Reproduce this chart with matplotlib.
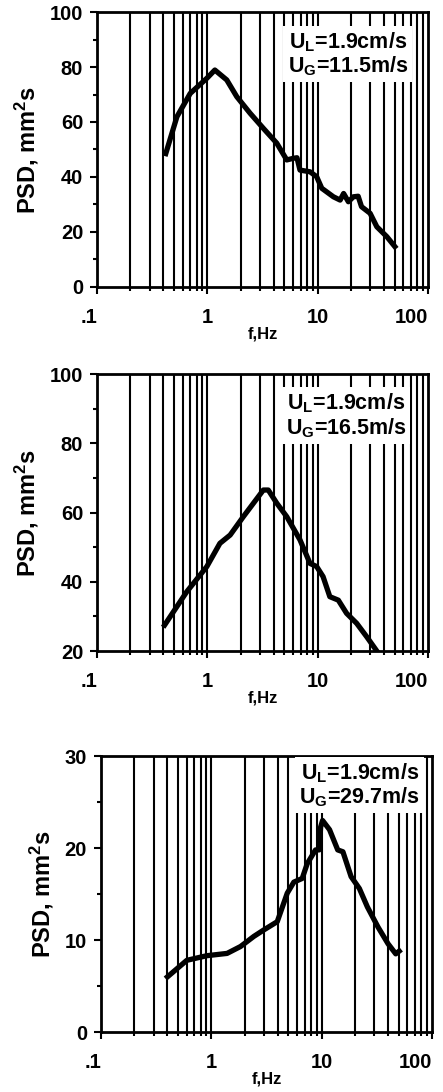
import numpy as np
import matplotlib
matplotlib.use('Agg')
import matplotlib.pyplot as plt
from matplotlib.ticker import LogLocator, MultipleLocator, NullFormatter

plt.rcParams['font.family'] = ['Liberation Sans', 'DejaVu Sans']
plt.rcParams['font.weight'] = 'bold'
plt.rcParams['mathtext.default'] = 'regular'

# panel 1: U_G = 11.5 m/s
f1 = [0.42, 0.53, 0.70, 0.99, 1.17, 1.50, 1.85, 2.44, 3.22, 4.26, 5.25, 6.03, 6.5, 6.92,
      8.53, 9.8, 10.9, 13.9, 16.0, 17.2, 19.0, 21.1, 23.3, 25.0, 29.9, 34.4, 42.4, 50.1]
p1 = [48.5, 61.9, 70.4, 75.9, 78.9, 75.3, 69.2, 63.2, 57.7, 52.3, 46.2, 46.8, 47.0, 42.5,
      41.9, 40.1, 35.9, 32.8, 31.6, 34.0, 31.0, 32.8, 33.0, 29.2, 26.8, 21.9, 18.3, 14.7]

# panel 2: U_G = 16.5 m/s
f2 = [0.41, 0.65, 0.99, 1.30, 1.61, 2.12, 2.62, 3.22, 3.57, 4.26, 5.25, 6.92, 8.53, 9.8,
      11.2, 12.9, 15.4, 18.3, 22.6, 27.9, 34.4]
p2 = [27.5, 37.1, 44.4, 51.1, 53.5, 58.8, 62.7, 66.5, 66.5, 62.7, 58.8, 52.1, 45.3, 44.4,
      41.5, 35.7, 34.7, 30.9, 28.0, 24.1, 20.0]

# panel 3: U_G = 29.7 m/s
f3 = [0.40, 0.60, 0.91, 1.39, 1.84, 2.43, 2.99, 3.96, 4.88, 5.6, 6.67, 7.4, 8.8, 9.5,
      9.8, 10.2, 11.8, 14.0, 15.6, 18.5, 22.0, 26.0, 32.5, 40.0, 47.0, 50.5]
p3 = [6.0, 7.8, 8.3, 8.55, 9.3, 10.4, 11.1, 12.0, 15.1, 16.3, 16.7, 18.3, 19.8, 19.8,
      22.3, 23.0, 22.0, 19.8, 19.6, 16.9, 15.6, 13.6, 11.4, 9.6, 8.5, 8.8]

labels = ['U$_L$=1.9cm/s\nU$_G$=11.5m/s',
          'U$_L$=1.9cm/s\nU$_G$=16.5m/s',
          'U$_L$=1.9cm/s\nU$_G$=29.7m/s']
ylims = [(0, 100), (20, 100), (0, 30)]
yticks = [[0, 20, 40, 60, 80, 100], [20, 40, 60, 80, 100], [0, 10, 20, 30]]
yminor = [10, 10, 5]
xticks = [0.1, 1, 10, 100]
xticklabels = ['.1', '1', '10', '100']

fig = plt.figure(figsize=(4.43, 10.92), dpi=100)
rects = [[0.219, 0.7372, 0.747, 0.2518],
         [0.219, 0.4038, 0.747, 0.2537],
         [0.228, 0.0549, 0.747, 0.2527]]
tpos = [(0.758, 0.847), (0.752, 0.850), (0.782, 0.895)]

grid_f = [m * 10.0 ** k for k in (-1, 0, 1) for m in range(2, 11)][:-1]

for i, (f, p) in enumerate([(f1, p1), (f2, p2), (f3, p3)]):
    ax = fig.add_axes(rects[i])
    ax.set_xscale('log')
    ax.set_xlim(0.1, 100)
    ax.set_ylim(*ylims[i])
    for g in grid_f:
        ax.axvline(g, color='black', lw=1.5, zorder=1)
    ax.plot(f, p, color='black', lw=3.8, zorder=3)
    ax.set_xticks(xticks, xticklabels)
    ax.xaxis.set_minor_locator(LogLocator(base=10, subs=np.arange(2, 10)))
    ax.xaxis.set_minor_formatter(NullFormatter())
    for lbl in ax.get_xticklabels():
        if lbl.get_text() == '100':
            lbl.set_ha('right')
            lbl.set_x(lbl.get_position()[0])
        elif lbl.get_text() == '.1':
            lbl.set_ha('right')
    ax.set_yticks(yticks[i])
    ax.yaxis.set_minor_locator(MultipleLocator(yminor[i]))
    ax.tick_params(which='major', direction='out', length=5, width=1.5, labelsize=14.5)
    ax.tick_params(axis='x', which='major', pad=10)
    ax.tick_params(axis='y', which='major', pad=5)
    ax.tick_params(which='minor', direction='out', length=3, width=1.5)
    for s in ax.spines.values():
        s.set_linewidth(2)
    ax.set_xlabel('f,Hz', fontsize=12, fontweight='bold', labelpad=0)
    ax.set_ylabel('PSD, mm$^2$s', fontsize=17, fontweight='bold', labelpad=6)
    ax.text(tpos[i][0], tpos[i][1], labels[i], transform=ax.transAxes, ha='center', va='center',
            fontsize=15.5, fontweight='bold', linespacing=1.05, zorder=4,
            bbox=dict(facecolor='white', edgecolor='none', pad=3))

fig.savefig('out.png', dpi=100)
